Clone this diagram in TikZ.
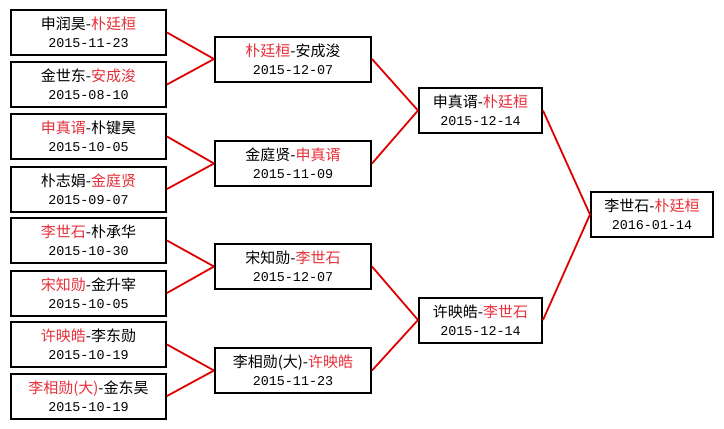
\documentclass[tikz,border=0pt]{standalone}
\usepackage{fontspec}
\newfontfamily\cjk{Noto Sans CJK SC}
\newfontfamily\datefont{Liberation Mono}
\usetikzlibrary{positioning}
\definecolor{cred}{HTML}{E8303A}
\definecolor{cline}{HTML}{E00000}
\newcommand{\win}[1]{\textcolor{cred}{#1}}
\newcommand{\game}[2]{{\cjk\fontsize{15}{18}\selectfont #1}\\{\datefont\fontsize{13.4}{18}\selectfont #2}}
\tikzset{
  every picture/.style={line width=1.2pt},
  box/.style={draw=black, fill=white, line width=2pt, align=center, inner sep=2pt,
    minimum width=#1, minimum height=45pt, font=\fontsize{14}{18}\selectfont},
  box/.default=155pt,
  link/.style={draw=cline, line width=1.8pt},
}

\begin{document}
\begin{tikzpicture}[x=1pt, y=-1pt]
  \fill[white] (0,0) rectangle (724,429);
  \useasboundingbox (0,0) rectangle (724,429);
  % round one
  \node[box] (r1a) at (88.5,32.5)  {\game{申润昊-\win{朴廷桓}}{2015-11-23}};
  \node[box] (r1b) at (88.5,84.5)  {\game{金世东-\win{安成浚}}{2015-08-10}};
  \node[box] (r1c) at (88.5,136.5) {\game{\win{申真谞}-朴键昊}{2015-10-05}};
  \node[box] (r1d) at (88.5,189)   {\game{朴志娟-\win{金庭贤}}{2015-09-07}};
  \node[box] (r1e) at (88.5,240.5) {\game{\win{李世石}-朴承华}{2015-10-30}};
  \node[box] (r1f) at (88.5,293)   {\game{\win{宋知勋}-金升宰}{2015-10-05}};
  \node[box] (r1g) at (88.5,344.5) {\game{\win{许映皓}-李东勋}{2015-10-19}};
  \node[box] (r1h) at (88.5,396)   {\game{\win{李相勋(大)}-金东昊}{2015-10-19}};
  % quarter finals
  \node[box=156pt] (r2a) at (293,59)    {\game{\win{朴廷桓}-安成浚}{2015-12-07}};
  \node[box=156pt] (r2b) at (293,163.5) {\game{金庭贤-\win{申真谞}}{2015-11-09}};
  \node[box=156pt] (r2c) at (293,266.5) {\game{宋知勋-\win{李世石}}{2015-12-07}};
  \node[box=156pt] (r2d) at (293,370.5) {\game{李相勋(大)-\win{许映皓}}{2015-11-23}};
  % semi finals
  \node[box=123pt] (r3a) at (480.5,110.5) {\game{申真谞-\win{朴廷桓}}{2015-12-14}};
  \node[box=123pt] (r3b) at (480.5,320)   {\game{许映皓-\win{李世石}}{2015-12-14}};
  % final
  \node[box=122pt] (fin) at (652,214.5) {\game{李世石-\win{朴廷桓}}{2016-01-14}};
  % connectors
  \foreach \a/\b in {r1a/r2a, r1b/r2a, r1c/r2b, r1d/r2b, r1e/r2c, r1f/r2c, r1g/r2d, r1h/r2d,
                     r2a/r3a, r2b/r3a, r2c/r3b, r2d/r3b, r3a/fin, r3b/fin}
    \draw[link] (\a.east) -- (\b.west);
\end{tikzpicture}
\end{document}
